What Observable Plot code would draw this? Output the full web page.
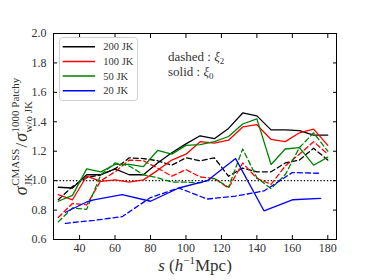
<!DOCTYPE html>
<html>
<head>
<meta charset="utf-8">
<script src="https://cdn.jsdelivr.net/npm/d3@7"></script>
<script src="https://cdn.jsdelivr.net/npm/@observablehq/plot@0.6"></script>
<style>
  html, body { margin: 0; padding: 0; background: #fff; }
  svg { font-family: "Liberation Serif", serif; }
</style>
</head>
<body>
<div id="chart"></div>
<script>
// ---- data ----
const sMain = [28, 36, 44, 52, 60, 68, 76, 84, 92, 100, 108, 116, 124, 132, 140, 148, 156, 164, 172, 180];
const sBlue = [32, 44, 48, 64, 80, 96, 112, 128, 144, 160, 176];
const sBlueDash = [32, 48, 64, 80, 96, 112, 128, 144, 160, 176];

const jk200Solid  = [0.955, 0.95, 1.04, 1.04, 1.08, 1.04, 1.04, 1.12, 1.19, 1.25, 1.305, 1.285, 1.355, 1.46, 1.44, 1.345, 1.345, 1.34, 1.31, 1.31];
const jk200Dashed = [0.87, 0.96, 1.02, 1.04, 1.08, 1.155, 1.15, 1.135, 1.105, 1.155, 1.135, 1.155, 1.03, 1.085, 1.06, 1.06, 1.12, 1.14, 1.22, 1.14];
const jk100Solid  = [0.905, 0.87, 1.03, 0.995, 1.005, 0.99, 1.005, 1.07, 1.14, 1.18, 1.265, 1.255, 1.275, 1.365, 1.38, 1.28, 1.265, 1.325, 1.35, 1.24];
const jk100Dashed = [0.75, 0.845, 0.835, 1.0, 1.06, 1.14, 1.135, 1.085, 1.03, 1.075, 1.025, 1.015, 0.95, 1.12, 1.015, 0.975, 1.1, 1.18, 1.265, 1.18];
const jk50Solid   = [0.86, 0.90, 1.08, 1.06, 1.11, 1.11, 1.095, 1.205, 1.18, 1.24, 1.245, 1.265, 1.30, 1.385, 1.42, 1.11, 1.215, 1.225, 1.105, 1.16];
const jk50Dashed  = [0.72, 0.815, 0.805, 1.04, 1.12, 1.10, 1.04, 1.02, 0.99, 0.99, 0.985, 1.015, 0.955, 1.215, 1.02, 0.945, 1.04, 1.225, 1.325, 1.20];
const jk20Solid   = [0.785, 0.855, 0.87, 0.905, 0.86, 0.95, 1.0, 1.15, 0.795, 0.87, 0.88];
const jk20Dashed  = [0.71, 0.73, 0.755, 0.885, 0.95, 0.875, 0.895, 0.93, 1.055, 1.05];

const seriesNames = ["200 JK", "100 JK", "50 JK", "20 JK"];
const seriesColors = ["#000000", "#ff0000", "#008000", "#0000ff"];
const xTicks = [40, 60, 80, 100, 120, 140, 160, 180];
const yTicks = [0.6, 0.8, 1.0, 1.2, 1.4, 1.6, 1.8, 2.0];
const refLine = [1.0];
const annotations = ["dashed : ", "solid : "];

// ---- build table ----
function rows(sArr, vArr, name, kind) {
  return sArr.map((s, i) => ({s, v: vArr[i], name, kind}));
}
const solidSets = [
  rows(sMain, jk200Solid, "200 JK", "solid"),
  rows(sMain, jk100Solid, "100 JK", "solid"),
  rows(sMain, jk50Solid, "50 JK", "solid"),
  rows(sBlue, jk20Solid, "20 JK", "solid")
];
const dashedSets = [
  rows(sMain, jk200Dashed, "200 JK", "dashed"),
  rows(sMain, jk100Dashed, "100 JK", "dashed"),
  rows(sMain, jk50Dashed, "50 JK", "dashed"),
  rows(sBlueDash, jk20Dashed, "20 JK", "dashed")
];

const lineMarks = [];
for (let i = 0; i < 4; i++) {
  lineMarks.push(Plot.line(solidSets[i], {x: "s", y: "v", stroke: seriesColors[i], strokeWidth: 1.3}));
  lineMarks.push(Plot.line(dashedSets[i], {x: "s", y: "v", stroke: seriesColors[i], strokeWidth: 1.3, strokeDasharray: "5,3"}));
}

const fontSize = 12;
const chart = Plot.plot({
  width: 374,
  height: 280,
  marginLeft: 53,
  marginRight: 38,
  marginTop: 33,
  marginBottom: 41,
  style: {fontFamily: "Liberation Serif, serif", fontSize: fontSize + "px", background: "#fff"},
  x: {domain: [25.3, 184.9]},
  y: {domain: [0.6, 2.0]},
  marks: [
    Plot.ruleY(refLine, {stroke: "#000", strokeWidth: 1.3, strokeDasharray: "1.3,2"}),
    ...lineMarks,
    Plot.frame({stroke: "#000", strokeWidth: 1}),
    Plot.axisX(xTicks, {anchor: "bottom", tickSize: -4, tickPadding: 8, label: null, fill: "#333", fontSize: fontSize}),
    Plot.axisX(xTicks, {anchor: "top", tickSize: -4, tickFormat: () => "", label: null}),
    Plot.axisY(yTicks, {anchor: "left", tickSize: -4, tickPadding: 11, tickFormat: d3.format(".1f"), label: null, fill: "#333", fontSize: fontSize}),
    Plot.axisY(yTicks, {anchor: "right", tickSize: -4, tickFormat: () => "", label: null})
  ]
});
document.getElementById("chart").appendChild(chart);

const svg = d3.select(chart);
const ns = "Liberation Serif, serif";

// legend
const lg = svg.append("g").attr("text-anchor", "start");
lg.append("rect").attr("x", 59.5).attr("y", 37.5).attr("width", 78).attr("height", 63)
  .attr("rx", 3).attr("fill", "#fff").attr("fill-opacity", 0.85).attr("stroke", "#d0d0d0").attr("stroke-width", 1);
seriesNames.forEach((name, i) => {
  const y = 46.7 + i * 14.7;
  lg.append("line").attr("x1", 62.7).attr("x2", 95).attr("y1", y).attr("y2", y)
    .attr("stroke", seriesColors[i]).attr("stroke-width", 1.5);
  lg.append("text").attr("x", 103.3).attr("y", y + 3.6).attr("text-anchor", "start").attr("font-family", ns).attr("font-size", 10.5)
    .attr("fill", "#333").text(name);
});

// annotation
[[annotations[0], "2", 61], [annotations[1], "0", 76]].forEach(([t, sub, y]) => {
  const tx = svg.append("text").attr("x", 168).attr("y", y).attr("text-anchor", "start").attr("font-family", ns).attr("font-size", 13).attr("fill", "#333");
  tx.append("tspan").text(t);
  tx.append("tspan").attr("font-style", "italic").text("ξ");
  tx.append("tspan").attr("font-size", 9).attr("dy", 2.5).text(sub);
});

// x label
const xl = svg.append("text").attr("x", 195).attr("y", 271).attr("text-anchor", "middle")
  .attr("font-family", ns).attr("font-size", 17).attr("fill", "#333");
xl.append("tspan").attr("font-style", "italic").text("s");
xl.append("tspan").text(" (");
xl.append("tspan").attr("font-style", "italic").text("h");
xl.append("tspan").attr("font-size", 11).attr("dy", -7).text("−1");
xl.append("tspan").attr("dy", 7).text("Mpc)");

// y label (rotated)
const yg = svg.append("g").attr("transform", "translate(27,136) rotate(-90)");
const inner = yg.append("g").attr("text-anchor", "start");
let cx = 0;
function put(txt, size, dy, italic) {
  const t = inner.append("text").attr("x", cx).attr("y", dy).attr("text-anchor", "start").attr("font-family", ns)
    .attr("font-size", size).attr("fill", "#333").attr("font-style", italic ? "italic" : "normal").text(txt);
  return t.node().getComputedTextLength();
}
function sigma(sup, sub) {
  cx += put("σ", 18, 0, true) + 0.5;
  const w1 = put(sup, 11, -8, false);
  const w2 = put(sub, 11, 5, false);
  cx += Math.max(w1, w2) + 1;
}
sigma("CMASS", "JK");
cx += put("/", 17, 0, false) + 1;
sigma("1000 Patchy", "w/o JK");
inner.attr("transform", `translate(${-cx / 2},0)`);
</script>
</body>
</html>
